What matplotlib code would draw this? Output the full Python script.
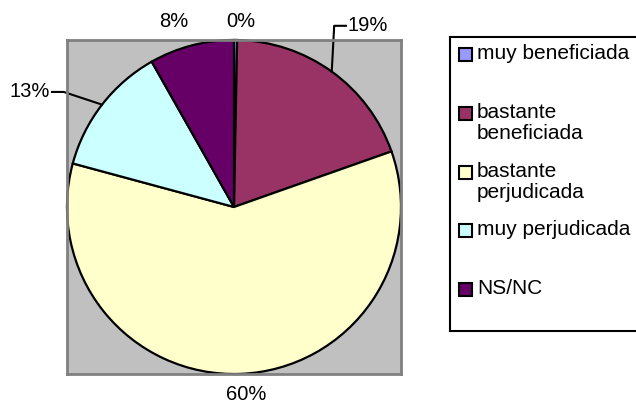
import numpy as np
import matplotlib.pyplot as plt
from matplotlib.patches import Rectangle

plt.rcParams['font.family'] = ['Liberation Sans', 'DejaVu Sans']

categories = ["muy beneficiada", "bastante\nbeneficiada", "bastante\nperjudicada",
              "muy perjudicada", "NS/NC"]
values = [0.3, 19.3, 59.6, 12.6, 8.2]
colors = ["#9999FF", "#993366", "#FFFFCC", "#CCFFFF", "#660066"]

# label placement (data units of the pie axes, radius = 1)
label_pos = [(0.04, 1.108), (0.68, 1.085), (0.07, -1.12), (-1.10, 0.689), (-0.36, 1.108)]
label_ha = ["center", "left", "center", "right", "center"]

W, H = 636, 403
fig = plt.figure(figsize=(W / 100, H / 100), dpi=100)

# pie area: grey box
ax = fig.add_axes([67 / W, (H - 374) / H, 334 / W, 334 / H])
wedges, _ = ax.pie(values, colors=colors, startangle=90, counterclock=False,
                   radius=1, wedgeprops=dict(edgecolor="black", linewidth=1.6))
ax.set_frame_on(True)
ax.set_facecolor("#C0C0C0")
for s in ax.spines.values():
    s.set_visible(True)
    s.set_color("#808080")
    s.set_linewidth(2)
ax.set_xlim(-1, 1)
ax.set_ylim(-1, 1)
ax.set_aspect("auto")
ax.set_xticks([])
ax.set_yticks([])

total = sum(values)
for i, w in enumerate(wedges):
    pct = "%d%%" % round(values[i] / total * 100)
    tx, ty = label_pos[i]
    ax.text(tx, ty, pct, ha=label_ha[i], va="center", fontsize=14.5, clip_on=False)
    mid = np.deg2rad((w.theta1 + w.theta2) / 2)
    ex, ey = np.cos(mid), np.sin(mid)
    # leader lines for labels that sit away from their slice
    if label_ha[i] == "left":
        ax.plot([ex, tx - 0.08, tx - 0.01], [ey, ty, ty], color="black", lw=1.5, clip_on=False)
    elif label_ha[i] == "right":
        ax.plot([ex, tx + 0.08, tx + 0.01], [ey, ty, ty], color="black", lw=1.5, clip_on=False)

# legend box
lx, ly, lw_, lh = 450, 37, 190, 294
lax = fig.add_axes([lx / W, (H - ly - lh) / H, lw_ / W, lh / H])
lax.set_xlim(0, lw_)
lax.set_ylim(lh, 0)
lax.set_xticks([])
lax.set_yticks([])
for s in lax.spines.values():
    s.set_linewidth(1.5)
    s.set_color("black")
for i, (lab, c) in enumerate(zip(categories, colors)):
    yc = 18 + i * 58.8
    lax.add_patch(Rectangle((9, yc - 7), 13, 13, facecolor=c, edgecolor="black", lw=1.5))
    lax.text(27, yc - 11, lab, ha="left", va="top", fontsize=15, linespacing=1.15)

fig.savefig("out.png", dpi=100)
